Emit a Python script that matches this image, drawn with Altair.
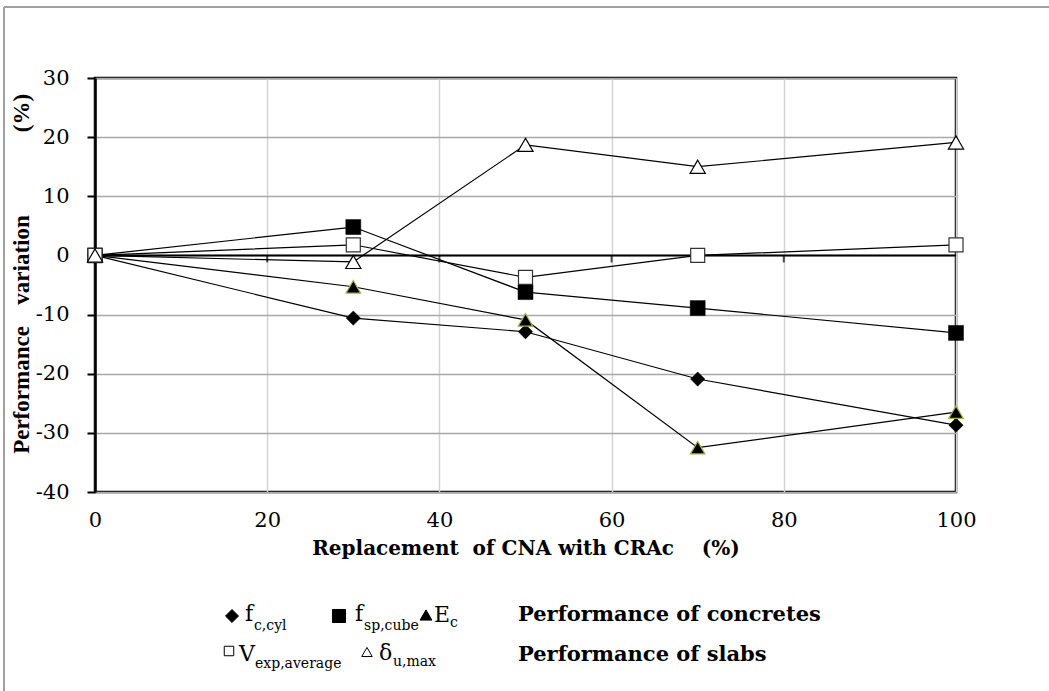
import altair as alt
import pandas as pd

# ---------------- data ----------------
replacement = [0, 30, 50, 70, 100]
f_c_cyl = [0, -10.6, -12.9, -20.9, -28.7]
f_sp_cube = [0, 4.8, -6.2, -8.9, -13.1]
E_c = [0, -5.3, -10.9, -32.5, -26.5]
V_exp_average = [0, 1.8, -3.7, 0.0, 1.8]
delta_u_max = [0, -1.1, 18.7, 15.0, 19.1]

series_names = ["f_c,cyl", "f_sp,cube", "E_c", "V_exp,average", "delta_u,max"]
series_values = [f_c_cyl, f_sp_cube, E_c, V_exp_average, delta_u_max]

x_ticks = [0, 20, 40, 60, 80, 100]
y_ticks = [-40, -30, -20, -10, 0, 10, 20, 30]
zero_ticks = [20, 40, 60, 80]

rows = []
for name, vals in zip(series_names, series_values):
    for x, v in zip(replacement, vals):
        rows.append({"series": name, "x": x, "y": v})
df = pd.DataFrame(rows)

SERIF = "DejaVu Serif"
TIMES = "Liberation Serif"
W, H = 861, 414
PL, PT = 95, 78

xs = alt.Scale(domain=[0, 100], nice=False, zero=False)
ys = alt.Scale(domain=[-40, 30], nice=False, zero=False)

base = alt.Chart(df)

axes = base.mark_point(opacity=0).encode(
    x=alt.X("x:Q", scale=xs,
            axis=alt.Axis(values=x_ticks, grid=True, gridColor="#d4d4d4", gridWidth=1.5,
                          ticks=False, domain=False, labelFont=SERIF, labelFontSize=21,
                          labelColor="black", labelPadding=17, labelFlush=False,
                          labelExpr="'' + datum.value",
                          title="Replacement\u00a0 of CNA with CRAc\u00a0\u00a0\u00a0 (%)",
                          titleFont=SERIF, titleFontSize=20, titleFontWeight="bold",
                          titleColor="black", titlePadding=8)),
    y=alt.Y("y:Q", scale=ys,
            axis=alt.Axis(values=y_ticks, grid=True, gridColor="#a8a8a8", gridWidth=1.5,
                          ticks=True, tickSize=8, tickColor="black", tickWidth=2,
                          domain=True, domainColor="black", domainWidth=2.5,
                          labelFont=SERIF, labelFontSize=21, labelColor="black",
                          labelPadding=18, labelExpr="'' + datum.value", title=None)),
)

zero_line = alt.Chart(pd.DataFrame({"y": [0]})).mark_rule(color="black", strokeWidth=2).encode(
    y=alt.Y("y:Q", scale=ys))

zero_tick_marks = alt.Chart(pd.DataFrame({"x": zero_ticks, "y": [0] * len(zero_ticks)})).mark_tick(
    color="black", thickness=2, size=7, orient="vertical", yOffset=3.5).encode(
    x=alt.X("x:Q", scale=xs), y=alt.Y("y:Q", scale=ys))

lines = base.mark_line(color="black", strokeWidth=1.2).encode(
    x=alt.X("x:Q", scale=xs), y=alt.Y("y:Q", scale=ys), detail="series:N")

styles = {
    "f_c,cyl": dict(shape="diamond", size=205, filled=True, fill="black", stroke="black", strokeWidth=0.5),
    "f_sp,cube": dict(shape="square", size=225, filled=True, fill="black", stroke="black", strokeWidth=0.5),
    "E_c": dict(shape="triangle-up", size=210, filled=True, fill="black", stroke="#9ab54a", strokeWidth=1.2),
    "V_exp,average": dict(shape="square", size=196, filled=True, fill="white", stroke="#333333", strokeWidth=1.2),
    "delta_u,max": dict(shape="triangle-up", size=230, filled=True, fill="white", stroke="black", strokeWidth=1.2),
}
point_layers = []
for name in series_names:
    st = styles[name]
    point_layers.append(
        alt.Chart(df[df.series == name]).mark_point(opacity=1, **st).encode(
            x=alt.X("x:Q", scale=xs), y=alt.Y("y:Q", scale=ys))
    )


def txt(s, px, py, size=21, bold=False, align="left", baseline="middle", angle=0, font=SERIF):
    return alt.Chart(pd.DataFrame({"t": [s]})).mark_text(
        font=font, fontSize=size, fontWeight="bold" if bold else "normal",
        align=align, baseline=baseline, angle=angle, color="black").encode(
        x=alt.value(px - PL), y=alt.value(py - PT), text="t:N")


def sym(shape, px, py, size, fill, stroke="black", sw=1):
    return alt.Chart(pd.DataFrame({"a": [0]})).mark_point(
        shape=shape, size=size, filled=True, fill=fill, stroke=stroke, strokeWidth=sw, opacity=1).encode(
        x=alt.value(px - PL), y=alt.value(py - PT))


decor = [
    # y-axis title pieces
    txt("Performance", 22, 390, size=23, bold=True, align="center", angle=270, font=TIMES),
    txt("variation", 22, 260, size=23, bold=True, align="center", angle=270, font=TIMES),
    txt("(%)", 22, 113, size=23, bold=True, align="center", angle=270, font=TIMES),
    # legend row 1
    sym("diamond", 232, 616, 170, "black"),
    txt("f", 245, 614, size=22),
    txt("c,cyl", 254, 626, size=14),
    sym("square", 339, 616, 170, "black"),
    txt("f", 355, 614, size=22),
    txt("sp,cube", 364, 626, size=14),
    sym("triangle-up", 426, 615, 140, "black"),
    txt("E", 434, 615, size=22),
    txt("c", 450, 623, size=14),
    txt("Performance of concretes", 518, 615, size=21, bold=True),
    # legend row 2
    sym("square", 229, 651, 90, "white", "black", 1),
    txt("V", 239, 654, size=22),
    txt("exp,average", 255, 664, size=14),
    sym("triangle-up", 367, 652, 110, "white", "black", 1),
    txt("\u03b4", 379, 653, size=22),
    txt("u,max", 393, 662, size=14),
    txt("Performance of slabs", 518, 655, size=21, bold=True),
]

frame_left = alt.Chart(pd.DataFrame({"a": [0]})).mark_rule(color="#a0a0a0", strokeWidth=2).encode(
    x=alt.value(4 - PL), y=alt.value(7 - PT), y2=alt.value(691 - PT))
frame_top = alt.Chart(pd.DataFrame({"a": [0]})).mark_rule(color="#a0a0a0", strokeWidth=2).encode(
    x=alt.value(4 - PL), x2=alt.value(1049 - PL), y=alt.value(7 - PT))

chart = alt.layer(
    axes, zero_line, zero_tick_marks, lines, *point_layers, *decor, frame_left, frame_top
).properties(
    width=W, height=H,
    autosize=alt.AutoSizeParams(type="none"),
    padding={"left": PL, "top": PT, "right": 1049 - PL - W, "bottom": 691 - PT - H},
    background="white",
).configure_view(stroke="black", strokeWidth=2.5)

chart.save("out.html", embed_options={"renderer": "svg", "actions": False})
